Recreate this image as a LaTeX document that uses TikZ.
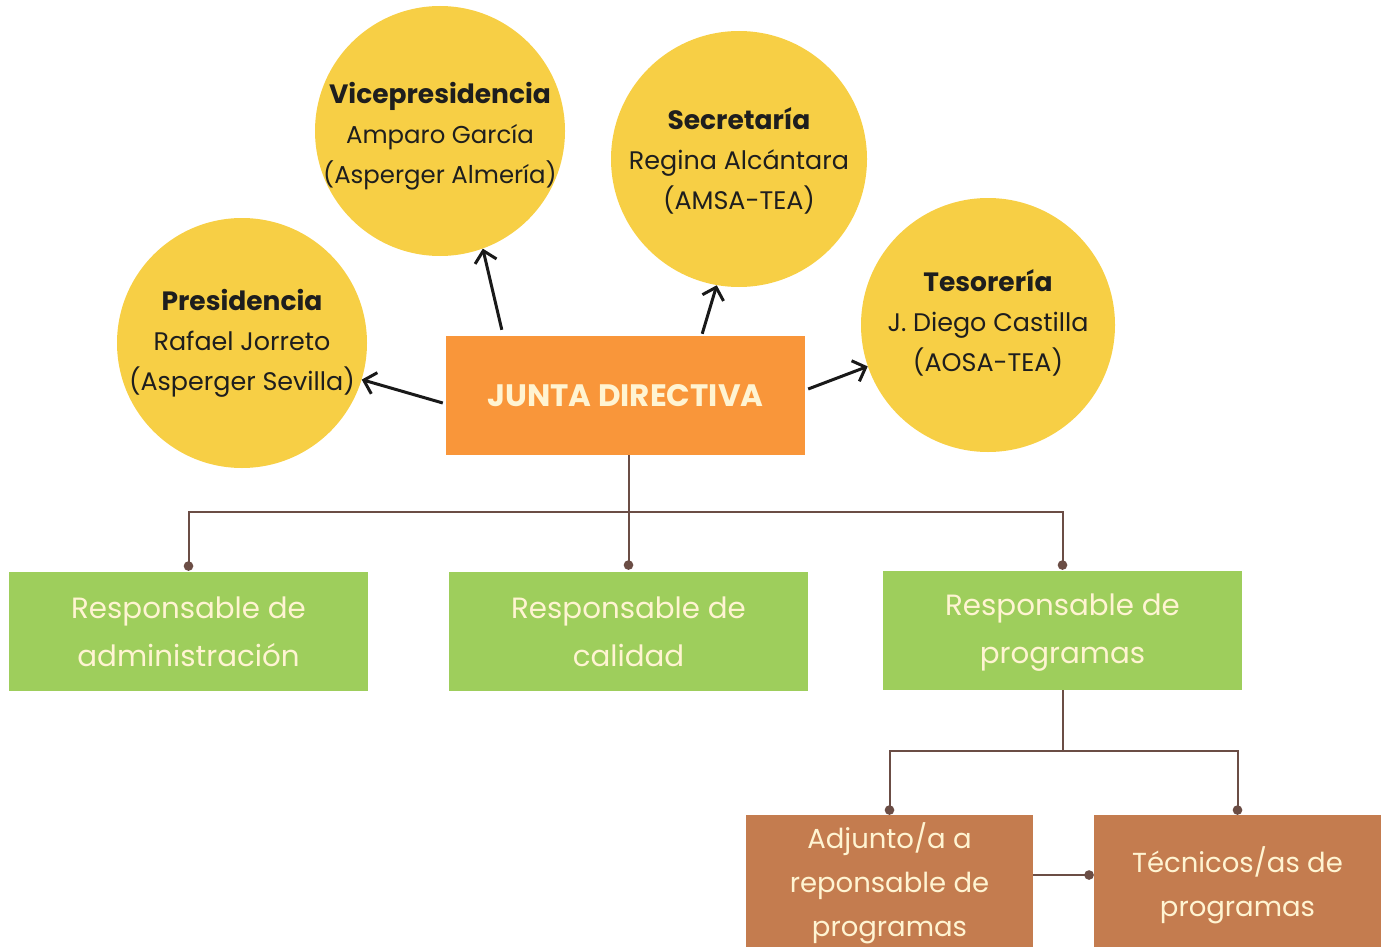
\documentclass[tikz,border=0pt]{standalone}
\usepackage{fontspec}
\setmainfont{Poppins}
\usetikzlibrary{arrows.meta}
\definecolor{cyellow}{HTML}{F7CF45}
\definecolor{corange}{HTML}{F9963A}
\definecolor{cgreen}{HTML}{9ECE5C}
\definecolor{cbrown}{HTML}{C47C4F}
\definecolor{ccream}{HTML}{FFF4D2}
\definecolor{cline}{HTML}{6B4D45}
\definecolor{ctext}{HTML}{1E1E1E}
\newcommand{\ctitle}[1]{{\fontsize{26.5}{40}\selectfont\bfseries #1}}
\tikzset{
  circ/.style={circle, fill=cyellow, minimum size=#1, inner sep=0pt},
  ctxt/.style={text=ctext, align=center, inner sep=0pt, font=\fontsize{25.4}{40}\selectfont},
  junta/.style={rectangle, fill=corange, minimum width=359pt, minimum height=119pt, inner sep=0pt, text=ccream, font=\fontsize{31}{36}\selectfont\bfseries},
  gbox/.style={rectangle, fill=cgreen, minimum width=359pt, minimum height=119pt, inner sep=0pt},
  gtxt/.style={text=ccream, align=center, inner sep=0pt, font=\fontsize{29.3}{48}\selectfont},
  bbox/.style={rectangle, fill=cbrown, minimum width=287pt, minimum height=132pt, inner sep=0pt},
  btxt/.style={text=ccream, align=center, inner sep=0pt, font=\fontsize{27.5}{44}\selectfont},
  arr/.style={draw=black!90, line width=3pt, -{Straight Barb[length=11pt,width=22pt,line width=3pt]}},
  conn/.style={draw=cline, line width=2pt},
  dotend/.style={-{Circle[length=9.5pt,width=9.5pt]}, shorten >=1pt},
}
\begin{document}
\begin{tikzpicture}[x=1pt,y=-1pt]
\useasboundingbox (0,0) rectangle (1389,947);
% circles
\node[circ=250pt, label={[ctxt]center:\ctitle{Presidencia}\\Rafael Jorreto\\(Asperger Sevilla)}] (pres) at (242,343) {};
\node[circ=250pt, label={[ctxt,yshift=-5pt,font=\fontsize{24.4}{40}\selectfont]center:\ctitle{Vicepresidencia}\\Amparo García\\(Asperger Almería)}] (vice) at (440,131) {};
\node[circ=256pt, label={[ctxt,yshift=-1.5pt]center:\ctitle{Secretaría}\\Regina Alcántara\\(AMSA-TEA)}] (sec) at (739,159) {};
\node[circ=254pt, label={[ctxt,yshift=2pt]center:\ctitle{Tesorería}\\J. Diego Castilla\\(AOSA-TEA)}] (tes) at (988,325) {};
% central box
\node[junta] (junta) at (625.5,395.5) {JUNTA DIRECTIVA};
% green boxes
\node[gbox, label={[gtxt,yshift=-0.5pt]center:Responsable de\\administración}] (adm) at (188.5,631.5) {};
\node[gbox, label={[gtxt,yshift=-0.5pt]center:Responsable de\\calidad}] (cal) at (628.5,631.5) {};
\node[gbox, label={[gtxt,yshift=-2.5pt]center:Responsable de\\programas}] (prog) at (1062.5,630.5) {};
% brown boxes
\node[bbox, label={[btxt,yshift=-2pt]center:Adjunto/a a\\reponsable de\\programas}] (adj) at (889.5,881) {};
\node[bbox, label={[btxt,yshift=-4.5pt]center:Técnicos/as de\\programas}] (tec) at (1237.5,881) {};
% arrows
\draw[arr] ([xshift=-3pt,yshift=-7.5pt]junta.west) -- (pres.343);
\draw[arr] ([xshift=56pt,yshift=6pt]junta.north west) -- (vice.290);
\draw[arr] ([xshift=-103pt,yshift=2pt]junta.north east) -- (sec.260);
\draw[arr] ([xshift=3pt,yshift=6.5pt]junta.east) -- (tes.199);
% connectors
\coordinate (bus) at (0,512);
\coordinate (bus2) at (0,751);
\draw[conn,dotend,shorten >=2pt] (cal.north |- junta.south) -- (cal.north);
\draw[conn,dotend] (cal.north |- bus) -| (adm.north);
\draw[conn,dotend] (cal.north |- bus) -| (prog.north);
\draw[conn] (prog.south) -- (prog.south |- bus2);
\draw[conn,dotend,shorten >=0pt] (prog.south |- bus2) -| (adj.north);
\draw[conn,dotend,shorten >=0pt] (prog.south |- bus2) -| (tec.north);
\draw[conn,dotend,shorten >=0pt] ([yshift=6pt]adj.east) -- ([yshift=6pt]tec.west);
\end{tikzpicture}
\end{document}
